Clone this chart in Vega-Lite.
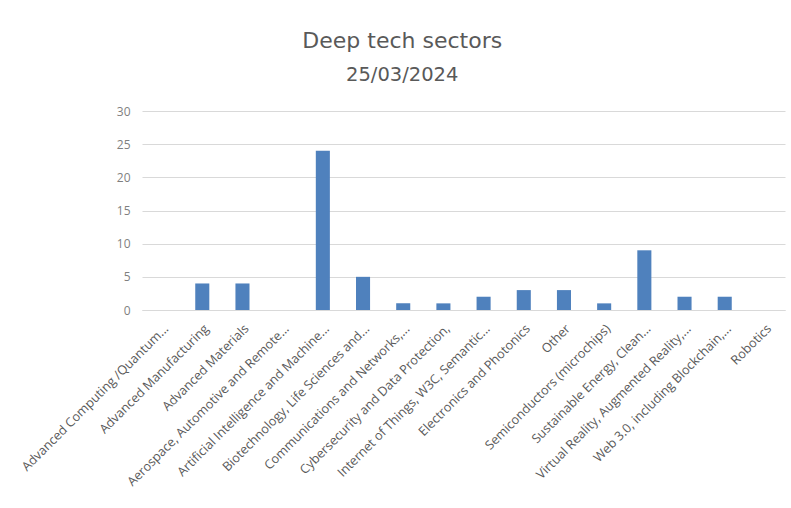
{
  "$schema": "https://vega.github.io/schema/vega-lite/v6.json",
  "autosize": "none",
  "width": 643,
  "height": 199,
  "padding": {"left": 142, "top": 111, "right": 6, "bottom": 198},
  "background": "white",
  "title": {
    "text": "Deep tech sectors",
    "subtitle": "25/03/2024",
    "anchor": "middle",
    "frame": "bounds",
    "font": "DejaVu Sans",
    "fontSize": 22,
    "fontWeight": "normal",
    "color": "#595959",
    "subtitleFont": "DejaVu Sans",
    "subtitleFontSize": 19.5,
    "subtitleColor": "#595959",
    "subtitlePadding": 13,
    "offset": 20
  },
  "data": {
    "values": [
      {"sector": "Advanced Computing /Quantum...", "count": 0},
      {"sector": "Advanced Manufacturing", "count": 4},
      {"sector": "Advanced Materials", "count": 4},
      {"sector": "Aerospace, Automotive and Remote...", "count": 0},
      {"sector": "Artificial Intelligence and Machine...", "count": 24},
      {"sector": "Biotechnology, Life Sciences and...", "count": 5},
      {"sector": "Communications and Networks,...", "count": 1},
      {"sector": "Cybersecurity and Data Protection,", "count": 1},
      {"sector": "Internet of Things, W3C, Semantic...", "count": 2},
      {"sector": "Electronics and Photonics", "count": 3},
      {"sector": "Other", "count": 3},
      {"sector": "Semiconductors (microchips)", "count": 1},
      {"sector": "Sustainable Energy, Clean...", "count": 9},
      {"sector": "Virtual Reality, Augmented Reality,...", "count": 2},
      {"sector": "Web 3.0, including Blockchain,...", "count": 2},
      {"sector": "Robotics", "count": 0}
    ]
  },
  "mark": {"type": "bar", "color": "#4f81bd"},
  "encoding": {
    "x": {
      "field": "sector",
      "type": "nominal",
      "sort": null,
      "title": null,
      "scale": {"paddingInner": 0.65, "paddingOuter": 0.325},
      "axis": {
        "labelAngle": -45,
        "labelFont": "Open Sans",
        "labelFontSize": 12.7,
        "labelColor": "#595959",
        "labelLimit": 400,
        "labelPadding": 12,
        "ticks": false,
        "domain": true,
        "domainColor": "#d9d9d9",
        "domainWidth": 1,
        "grid": false
      }
    },
    "y": {
      "field": "count",
      "type": "quantitative",
      "title": null,
      "scale": {"domain": [0, 30], "nice": false},
      "axis": {
        "values": [0, 5, 10, 15, 20, 25, 30],
        "labelFont": "Open Sans",
        "labelFontSize": 12,
        "labelColor": "#7f7f7f",
        "labelPadding": 12,
        "ticks": false,
        "domain": false,
        "grid": true,
        "gridColor": "#d9d9d9",
        "gridWidth": 1
      }
    }
  },
  "config": {"view": {"stroke": null}}
}
